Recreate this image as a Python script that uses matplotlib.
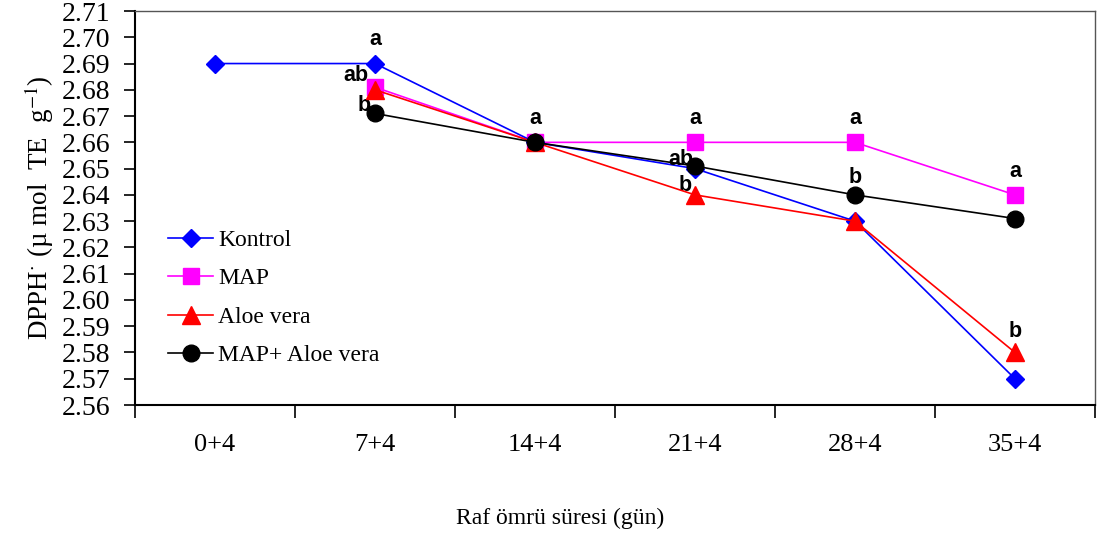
import numpy as np
import matplotlib.pyplot as plt

plt.rcParams['mathtext.fontset'] = 'stix'

days = ['0+4', '7+4', '14+4', '21+4', '28+4', '35+4']
kontrol = [2.69, 2.69, 2.66, 2.65, 2.63, 2.57]
map_ = [np.nan, 2.681, 2.66, 2.66, 2.66, 2.64]
aloe = [np.nan, 2.68, 2.66, 2.64, 2.63, 2.58]
map_aloe = [np.nan, 2.671, 2.66, 2.651, 2.64, 2.631]

# significance letters: (category index, y value, text, x offset)
letters = [
    (1, 2.699, 'a', 0.0), (1, 2.6855, 'ab', -0.12), (1, 2.674, 'b', -0.07),
    (2, 2.669, 'a', 0.0),
    (3, 2.669, 'a', 0.0), (3, 2.6535, 'ab', -0.09), (3, 2.6435, 'b', -0.06),
    (4, 2.669, 'a', 0.0), (4, 2.6465, 'b', 0.0),
    (5, 2.649, 'a', 0.0), (5, 2.588, 'b', 0.0),
]

serif = 'Liberation Serif'
fig = plt.figure(figsize=(11.04, 5.37), dpi=100)
ax = fig.add_axes([0.1223, 0.2458, 0.8695, 0.7337])

x = np.arange(len(days))
ax.plot(x, kontrol, color='blue', marker='D', ms=9, lw=1.2, label='Kontrol', zorder=3)
ax.plot(x, map_, color='magenta', marker='s', ms=11, lw=1.2, label='MAP', zorder=2)
ax.plot(x, aloe, color='red', marker='^', ms=13, lw=1.2, label='Aloe vera', zorder=4)
ax.plot(x, map_aloe, color='black', marker='o', ms=12, lw=1.2, label='MAP+ Aloe vera', zorder=5)

for i, yv, t, dx in letters:
    ax.text(i + dx, yv, t, ha='center', va='center', fontsize=15.5,
            fontweight='bold', family='Liberation Sans')

ax.set_xlim(-0.5, 5.5)
ax.set_ylim(2.56, 2.71)
ax.set_yticks(np.arange(2.56, 2.7101, 0.01))
ax.set_yticklabels(['%.2f' % v for v in np.arange(2.56, 2.7101, 0.01)],
                   fontsize=20, family=serif)
ax.set_xticks(x)
ax.set_xticklabels(days, fontsize=19, family=serif)
ax.set_xticks(np.arange(-0.5, 5.6, 1), minor=True)
ax.tick_params(axis='x', which='major', length=0, pad=21)
ax.tick_params(axis='x', which='minor', length=9, width=1.2, direction='out')
ax.tick_params(axis='y', length=8, width=1.2, direction='out', pad=10)

for s in ['left', 'bottom']:
    ax.spines[s].set_linewidth(1.5)
for s in ['top', 'right']:
    ax.spines[s].set_linewidth(1.0)
    ax.spines[s].set_color('#555555')

ax.set_ylabel('DPPH$^{\\cdot}$ (µ mol  TE  g$^{-1}$)', fontsize=19.5, family=serif, labelpad=4)
fig.text(0.507, 0.035, 'Raf ömrü süresi (gün)', ha='center', va='center',
         fontsize=17, family=serif)

ax.legend(loc='upper left', bbox_to_anchor=(0.025, 0.47), frameon=False,
          prop={'family': serif, 'size': 17}, handlelength=1.9,
          labelspacing=0.72, handletextpad=0.2, borderaxespad=0)

fig.savefig('out.png', dpi=100)
